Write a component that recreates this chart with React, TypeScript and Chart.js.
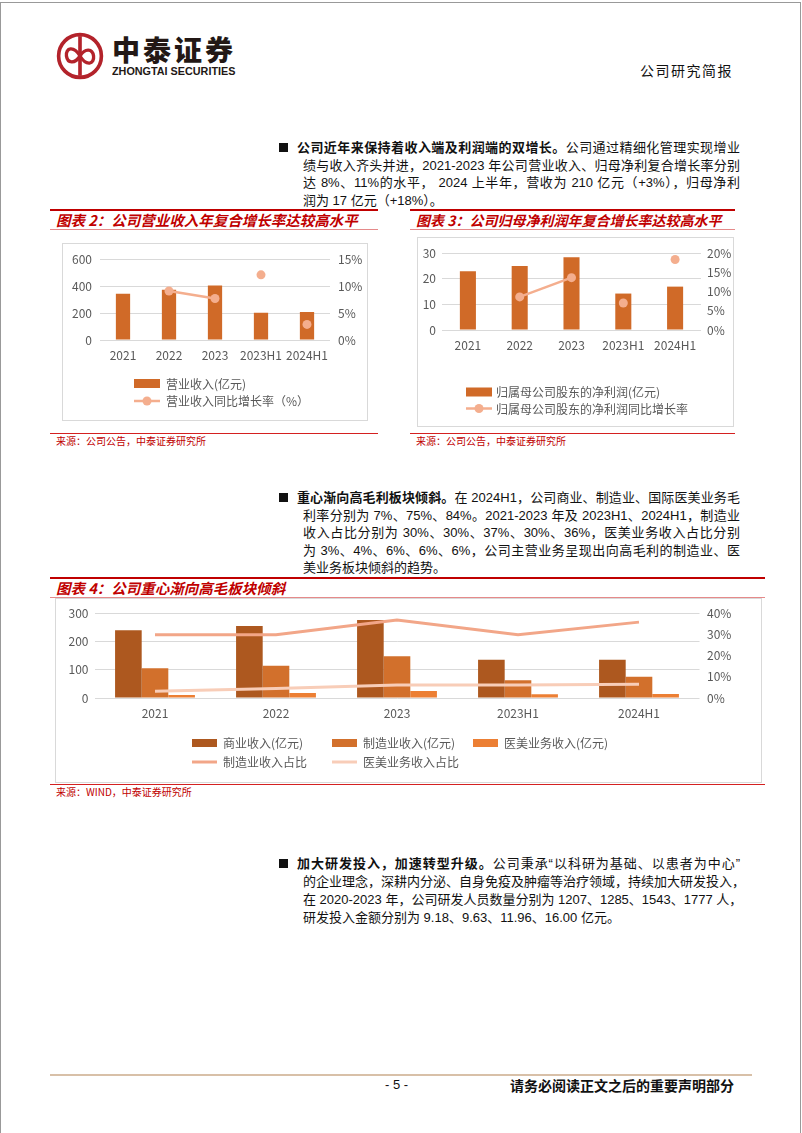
import React, { useEffect, useRef } from "react";
import { Chart, registerables } from "chart.js";
Chart.register(...registerables);

// ---------- data ----------
const categories = ["2021", "2022", "2023", "2023H1", "2024H1"];

// 图表2
const revenue = [344, 373, 405, 202, 208];
const revenueGrowth = [null, 9.1, 7.7, 12.1, 2.9];
const revenueLabel = "营业收入(亿元)";
const revenueGrowthLabel = "营业收入同比增长率（%）";

// 图表3
const netProfit = [22.9, 24.9, 28.3, 14.2, 16.9];
const netProfitGrowth = [null, 8.6, 13.6, 7.0, 18.3];
const netProfitLabel = "归属母公司股东的净利润(亿元)";
const netProfitGrowthLabel = "归属母公司股东的净利润同比增长率";

// 图表4
const commerceRevenue = [241, 256, 278, 136, 136];
const manufacturingRevenue = [106, 115, 149, 63, 76];
const aestheticsRevenue = [11, 18, 25, 13, 14];
const manufacturingShare = [30, 30, 37, 30, 36];
const aestheticsShare = [3.2, 4.5, 6.2, 6.2, 6.5];
const chart4Labels = ["商业收入(亿元)", "制造业收入(亿元)", "医美业务收入(亿元)", "制造业收入占比", "医美业务收入占比"];

// ---------- styles ----------
const BAR = "#D06A28";
const LINE = "#F4AE8E";
const DARK = "#AD581F";
const MID = "#D2702C";
const LIGHT = "#EC7F34";
const LINE_A = "#F2A688";
const LINE_B = "#F8CDB8";
const TICK = "#595959";
const GRID = "#D9D9D9";
const FONT = "'Noto Sans CJK SC', 'Liberation Sans', sans-serif";
const RED = "#C00000";

const legendPlugin = {
  id: "customLegend",
  afterDraw(chart: any, _args: any, opts: any) {
    if (!opts || !opts.items) return;
    const ctx = chart.ctx;
    ctx.save();
    ctx.font = `${opts.size || 12}px ${FONT}`;
    ctx.textBaseline = "middle";
    ctx.textAlign = "left";
    const sw = opts.swatch || 26;
    opts.items.forEach((it: any) => {
      const ds = chart.data.datasets[it.i];
      if (ds.type === "line") {
        ctx.strokeStyle = ds.borderColor;
        ctx.lineWidth = ds.borderWidth || 2;
        ctx.beginPath();
        ctx.moveTo(it.x, it.y);
        ctx.lineTo(it.x + sw, it.y);
        ctx.stroke();
        if (ds.pointRadius > 0) {
          ctx.fillStyle = ds.pointBackgroundColor || ds.borderColor;
          ctx.beginPath();
          ctx.arc(it.x + sw / 2, it.y, ds.pointRadius, 0, Math.PI * 2);
          ctx.fill();
        }
      } else {
        ctx.fillStyle = ds.backgroundColor;
        ctx.fillRect(it.x, it.y - (opts.boxH || 9) / 2, sw, opts.boxH || 9);
      }
      ctx.fillStyle = TICK;
      ctx.fillText(ds.label, it.x + sw + (opts.gap || 6), it.y + 0.5);
    });
    ctx.restore();
  },
};

function axisY(min: number, max: number, step: number, width: number, pad: number, pos: string, pct: boolean, grid: boolean) {
  return {
    type: "linear",
    position: pos,
    min,
    max,
    afterFit: (s: any) => {
      s.width = width;
    },
    ticks: {
      stepSize: step,
      padding: pad,
      color: TICK,
      font: { family: FONT, size: 12 },
      callback: (v: any) => (pct ? `${v}%` : `${v}`),
    },
    grid: { display: grid, color: GRID, lineWidth: 1, drawTicks: false },
    border: { display: false },
  };
}

function axisX(height: number) {
  return {
    type: "category",
    afterFit: (s: any) => {
      s.height = height;
    },
    ticks: { padding: 8, color: TICK, font: { family: FONT, size: 12 }, maxRotation: 0, minRotation: 0, autoSkip: false },
    grid: { display: false, drawTicks: false },
    border: { display: false },
  };
}

const hideLateSegments = (color: string) => (ctx: any) => (ctx.p0DataIndex >= 2 ? "rgba(0,0,0,0)" : color);

function useChart(ref: any, build: () => any) {
  useEffect(() => {
    const chart = new Chart(ref.current, build());
    return () => chart.destroy();
  }, []);
}

function Chart2() {
  const ref = useRef<HTMLCanvasElement>(null);
  useChart(ref, () => ({
    type: "bar",
    data: {
      labels: categories,
      datasets: [
        { type: "bar", label: revenueLabel, data: revenue, backgroundColor: BAR, yAxisID: "y", order: 2, categoryPercentage: 1, barPercentage: 0.31 },
        {
          type: "line", label: revenueGrowthLabel, data: revenueGrowth, yAxisID: "y1", order: 1,
          borderColor: LINE, backgroundColor: LINE, pointBackgroundColor: LINE, pointBorderWidth: 0,
          borderWidth: 2.5, pointRadius: 4.5, segment: { borderColor: hideLateSegments(LINE) },
        },
      ],
    },
    options: {
      animation: false, responsive: false,
      layout: { padding: { top: 13, bottom: 55, left: 0, right: 0 } },
      plugins: {
        legend: { display: false }, tooltip: { enabled: false },
        customLegend: { items: [{ i: 0, x: 71, y: 139.5 }, { i: 1, x: 71, y: 157 }], swatch: 26, gap: 6, boxH: 9 },
      },
      scales: {
        x: axisX(25),
        y: axisY(0, 600, 200, 37, 8, "left", false, true),
        y1: axisY(0, 15, 5, 37, 8, "right", true, false),
      },
    },
    plugins: [legendPlugin],
  }));
  return <canvas ref={ref} width={304} height={176} style={{ position: "absolute", left: 63, top: 244, width: 304, height: 176 }} />;
}

function Chart3() {
  const ref = useRef<HTMLCanvasElement>(null);
  useChart(ref, () => ({
    type: "bar",
    data: {
      labels: categories,
      datasets: [
        { type: "bar", label: netProfitLabel, data: netProfit, backgroundColor: BAR, yAxisID: "y", order: 2, categoryPercentage: 1, barPercentage: 0.31 },
        {
          type: "line", label: netProfitGrowthLabel, data: netProfitGrowth, yAxisID: "y1", order: 1,
          borderColor: LINE, backgroundColor: LINE, pointBackgroundColor: LINE, pointBorderWidth: 0,
          borderWidth: 2.5, pointRadius: 4.5, segment: { borderColor: hideLateSegments(LINE) },
        },
      ],
    },
    options: {
      animation: false, responsive: false,
      layout: { padding: { top: 15, bottom: 71, left: 0, right: 0 } },
      plugins: {
        legend: { display: false }, tooltip: { enabled: false },
        customLegend: { items: [{ i: 0, x: 48, y: 154 }, { i: 1, x: 48, y: 170.5 }], swatch: 26, gap: 4, boxH: 9 },
      },
      scales: {
        x: axisX(25),
        y: axisY(0, 30, 10, 24, 6, "left", false, true),
        y1: axisY(0, 20, 5, 32, 6, "right", true, false),
      },
    },
    plugins: [legendPlugin],
  }));
  return <canvas ref={ref} width={315} height={188} style={{ position: "absolute", left: 418, top: 238, width: 315, height: 188 }} />;
}

function Chart4() {
  const ref = useRef<HTMLCanvasElement>(null);
  useChart(ref, () => ({
    type: "bar",
    data: {
      labels: categories,
      datasets: [
        { type: "bar", label: chart4Labels[0], data: commerceRevenue, backgroundColor: DARK, yAxisID: "y", order: 2, categoryPercentage: 0.66, barPercentage: 1 },
        { type: "bar", label: chart4Labels[1], data: manufacturingRevenue, backgroundColor: MID, yAxisID: "y", order: 2, categoryPercentage: 0.66, barPercentage: 1 },
        { type: "bar", label: chart4Labels[2], data: aestheticsRevenue, backgroundColor: LIGHT, yAxisID: "y", order: 2, categoryPercentage: 0.66, barPercentage: 1 },
        { type: "line", label: chart4Labels[3], data: manufacturingShare, yAxisID: "y1", order: 1, borderColor: LINE_A, borderWidth: 3, pointRadius: 0 },
        { type: "line", label: chart4Labels[4], data: aestheticsShare, yAxisID: "y1", order: 1, borderColor: LINE_B, borderWidth: 3, pointRadius: 0 },
      ],
    },
    options: {
      animation: false, responsive: false,
      layout: { padding: { top: 14, bottom: 58, left: 0, right: 0 } },
      plugins: {
        legend: { display: false }, tooltip: { enabled: false },
        customLegend: {
          items: [
            { i: 0, x: 136, y: 144 }, { i: 1, x: 276, y: 144 }, { i: 2, x: 417, y: 144 },
            { i: 3, x: 136, y: 163 }, { i: 4, x: 276, y: 163 },
          ],
          swatch: 25, gap: 6, boxH: 8,
        },
      },
      scales: {
        x: axisX(26),
        y: axisY(0, 300, 100, 38.5, 6, "left", false, true),
        y1: axisY(0, 40, 10, 61.5, 7.5, "right", true, false),
      },
    },
    plugins: [legendPlugin],
  }));
  return <canvas ref={ref} width={705} height={183} style={{ position: "absolute", left: 56, top: 599, width: 705, height: 183 }} />;
}

// ---------- page pieces ----------
const bodyFont = "'Liberation Sans', 'Noto Sans CJK SC', sans-serif";

function TextLine(p: { x: number; y: number; w: number; justify?: boolean; children: any }) {
  return (
    <div
      style={{
        position: "absolute", left: p.x, top: p.y - 9, width: p.w, height: 18, lineHeight: "18px",
        fontSize: 13, fontFamily: bodyFont, color: "#111", whiteSpace: "nowrap",
        textAlign: p.justify ? "justify" : "left", textAlignLast: p.justify ? "justify" : "left",
      } as any}
    >
      {p.children}
    </div>
  );
}

function Bullet(p: { y: number }) {
  return <div style={{ position: "absolute", left: 279, top: p.y - 5, width: 9, height: 9, background: "#111" }} />;
}

function ChartHeader(p: { x: number; w: number; y: number; title: string; size?: number }) {
  return (
    <>
      <div style={{ position: "absolute", left: p.x, top: p.y, width: p.w, height: 2, background: RED }} />
      <div
        style={{
          position: "absolute", left: p.x + 6, top: p.y + 2, height: 18, lineHeight: "18px", fontSize: p.size || 14.5,
          fontFamily: "'Noto Sans CJK SC', sans-serif", fontWeight: 700, fontStyle: "italic", color: RED, whiteSpace: "nowrap",
        }}
      >
        {p.title}
      </div>
      <div style={{ position: "absolute", left: p.x, top: p.y + 20, width: p.w, height: 1, background: "#E58A8A" }} />
    </>
  );
}

function Source(p: { x: number; w: number; y: number; text: string }) {
  return (
    <>
      <div style={{ position: "absolute", left: p.x, top: p.y, width: p.w, height: 1, background: "#D42020" }} />
      <div
        style={{
          position: "absolute", left: p.x + 6, top: p.y + 1, lineHeight: "14px", fontSize: 10,
          fontFamily: "'Noto Sans CJK SC', sans-serif", color: RED, whiteSpace: "nowrap",
        }}
      >
        {p.text}
      </div>
    </>
  );
}

function Box(p: { x: number; y: number; w: number; h: number }) {
  return <div style={{ position: "absolute", left: p.x, top: p.y, width: p.w, height: p.h, border: "1px solid #D9D9D9", boxSizing: "border-box" }} />;
}

function Logo() {
  return (
    <>
      <svg width={48} height={48} style={{ position: "absolute", left: 56, top: 32 }} viewBox="0 0 46 46">
        <circle cx={23} cy={23} r={20.5} fill="none" stroke="#B3232B" strokeWidth={3.5} />
        <line x1={23} y1={4} x2={23} y2={42} stroke="#B3232B" strokeWidth={3.5} />
        <path d="M23 23 C 17 13, 9 15, 10 23 C 11 30, 18 31, 23 23 C 28 15, 35 16, 36 23 C 37 31, 29 33, 23 23" fill="none" stroke="#B3232B" strokeWidth={3.2} />
      </svg>
      <div
        style={{
          position: "absolute", left: 112, top: 33, fontSize: 28, lineHeight: "32px", fontWeight: 900,
          fontFamily: "'Noto Sans CJK SC', sans-serif", color: "#231815", letterSpacing: 3, whiteSpace: "nowrap",
        }}
      >
        中泰证券
      </div>
      <div
        style={{
          position: "absolute", left: 112, top: 66, fontSize: 10, lineHeight: "12px", fontWeight: 700,
          fontFamily: "'Liberation Sans', sans-serif", color: "#231815", whiteSpace: "nowrap",
          transform: "scaleX(1.08)", transformOrigin: "left",
        }}
      >
        ZHONGTAI SECURITIES
      </div>
    </>
  );
}

export default function App() {
  const L = 297;
  const L2 = 303;
  const R = 740;
  return (
    <div style={{ position: "absolute", left: 0, top: 0, width: 802, height: 1133, background: "#fff", overflow: "hidden" }}>
      <div style={{ position: "absolute", left: 0, top: 2, width: 801, height: 1131, borderLeft: "1px solid #999", borderTop: "1px solid #999", borderRight: "1px solid #999", boxSizing: "border-box" }} />
      <Logo />
      <div style={{ position: "absolute", left: 640, top: 61, fontSize: 14, lineHeight: "18px", fontFamily: "'Noto Sans CJK SC', sans-serif", letterSpacing: 1.5, color: "#111", whiteSpace: "nowrap" }}>
        公司研究简报
      </div>

      {/* paragraph 1 */}
      <Bullet y={148} />
      <TextLine x={L} y={148} w={R - L} justify>
        <b>公司近年来保持着收入端及利润端的双增长。</b>公司通过精细化管理实现增业
      </TextLine>
      <TextLine x={L2} y={165.5} w={R - L2} justify>
        绩与收入齐头并进，2021-2023 年公司营业收入、归母净利复合增长率分别
      </TextLine>
      <TextLine x={L2} y={183} w={R - L2} justify>
        达 8%、11%的水平， 2024 上半年，营收为 210 亿元（+3%），归母净利
      </TextLine>
      <TextLine x={L2} y={200.5} w={R - L2}>
        润为 17 亿元（+18%）。
      </TextLine>

      {/* charts 2 & 3 */}
      <ChartHeader x={50} w={328} y={209} title="图表 2：公司营业收入年复合增长率达较高水平" />
      <ChartHeader x={410} w={325} y={209} size={14} title="图表 3：公司归母净利润年复合增长率达较高水平" />
      <Box x={62} y={243} w={306} h={178} />
      <Box x={417} y={237} w={317} h={190} />
      <Chart2 />
      <Chart3 />
      <Source x={50} w={328} y={433} text="来源：公司公告，中泰证券研究所" />
      <Source x={410} w={325} y={433} text="来源：公司公告，中泰证券研究所" />

      {/* paragraph 2 */}
      <Bullet y={498} />
      <TextLine x={L} y={498} w={R - L} justify>
        <b>重心渐向高毛利板块倾斜。</b>在 2024H1，公司商业、制造业、国际医美业务毛
      </TextLine>
      <TextLine x={L2} y={515.5} w={R - L2} justify>
        利率分别为 7%、75%、84%。2021-2023 年及 2023H1、2024H1，制造业
      </TextLine>
      <TextLine x={L2} y={533} w={R - L2} justify>
        收入占比分别为 30%、30%、37%、30%、36%，医美业务收入占比分别
      </TextLine>
      <TextLine x={L2} y={550.5} w={R - L2} justify>
        为 3%、4%、6%、6%、6%，公司主营业务呈现出向高毛利的制造业、医
      </TextLine>
      <TextLine x={L2} y={568} w={R - L2}>
        美业务板块倾斜的趋势。
      </TextLine>

      {/* chart 4 */}
      <ChartHeader x={50} w={715} y={577} title="图表 4：公司重心渐向高毛板块倾斜" />
      <Box x={55} y={598} w={707} h={185} />
      <Chart4 />
      <Source x={50} w={715} y={784} text="来源：WIND，中泰证券研究所" />

      {/* paragraph 3 */}
      <Bullet y={863.5} />
      <TextLine x={L} y={863.5} w={R - L} justify>
        <b>加大研发投入，加速转型升级。</b>公司秉承“以科研为基础、以患者为中心”
      </TextLine>
      <TextLine x={L2} y={881.5} w={R - L2} justify>
        的企业理念，深耕内分泌、自身免疫及肿瘤等治疗领域，持续加大研发投入，
      </TextLine>
      <TextLine x={L2} y={899.5} w={R - L2} justify>
        在 2020-2023 年，公司研发人员数量分别为 1207、1285、1543、1777 人，
      </TextLine>
      <TextLine x={L2} y={917.5} w={R - L2}>
        研发投入金额分别为 9.18、9.63、11.96、16.00 亿元。
      </TextLine>

      {/* footer */}
      <div style={{ position: "absolute", left: 50, top: 1074, width: 702, height: 2, background: "#D8C0A8" }} />
      <div style={{ position: "absolute", left: 385, top: 1077, fontSize: 13, lineHeight: "16px", fontFamily: bodyFont, color: "#111", whiteSpace: "nowrap" }}>
        - 5 -
      </div>
      <div style={{ position: "absolute", left: 510, top: 1077, fontSize: 14, lineHeight: "16px", fontWeight: 700, fontFamily: "'Noto Sans CJK SC', sans-serif", color: "#111", whiteSpace: "nowrap" }}>
        请务必阅读正文之后的重要声明部分
      </div>
    </div>
  );
}
